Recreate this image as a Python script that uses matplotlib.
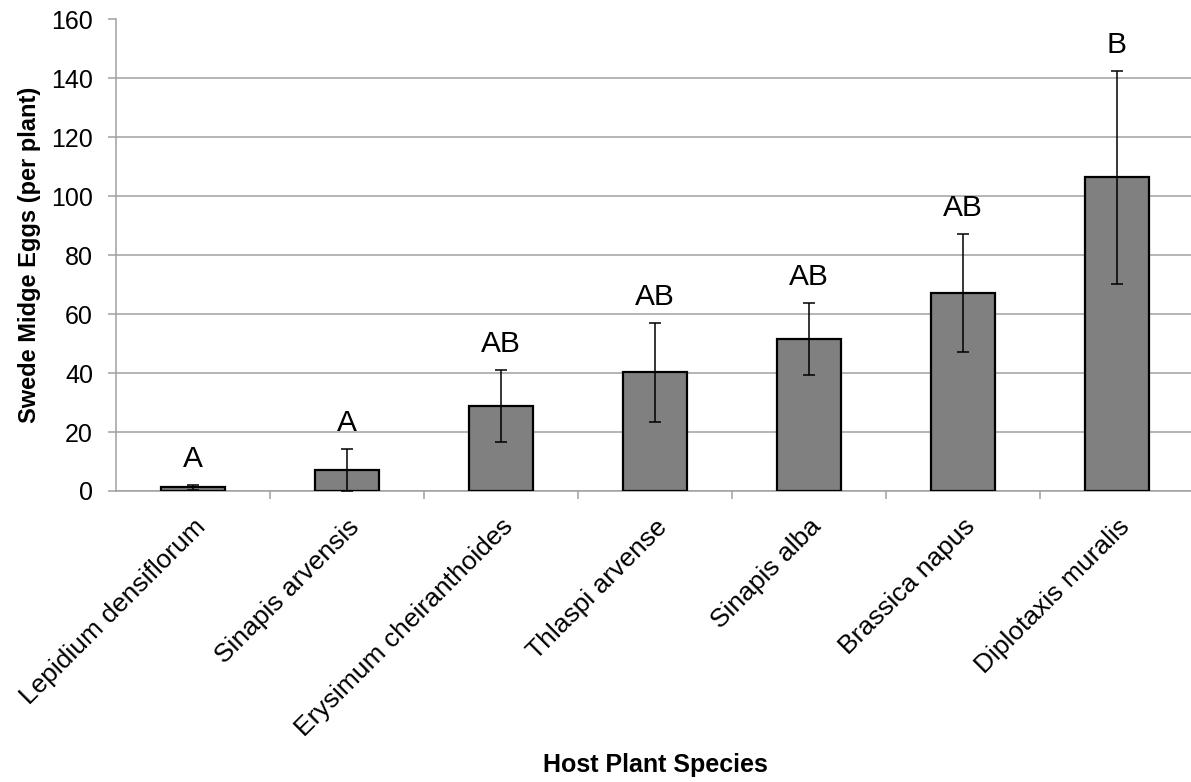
"""Swede midge eggs per host plant: bar chart with SE bars and letter groups."""

import matplotlib

matplotlib.use("Agg")
import matplotlib.pyplot as plt  # noqa: E402
import numpy as np  # noqa: E402

plt.rcParams["font.family"] = ["Liberation Sans", "DejaVu Sans"]

# data
species = [
    "Lepidium densiflorum", "Sinapis arvensis", "Erysimum cheiranthoides",
    "Thlaspi arvense", "Sinapis alba", "Brassica napus", "Diplotaxis muralis",
]
eggs_mean = [1.3, 7.1, 28.8, 40.3, 51.5, 67.1, 106.4]
eggs_err = [0.8, 7.0, 12.3, 16.8, 12.2, 20.0, 36.0]
groups = ["A", "A", "AB", "AB", "AB", "AB", "B"]
y_ticks = [0, 20, 40, 60, 80, 100, 120, 140, 160]

C_BAR = "#808080"
C_AXIS = "#a0a0a0"

W, H = 1191, 782
fig = plt.figure(figsize=(W / 100, H / 100), dpi=100)
ax = fig.add_axes([116 / W, 1 - 491 / H, 1078 / W, (491 - 19.5) / H])

x = np.arange(len(species))
ax.bar(x, eggs_mean, width=0.41, color=C_BAR, edgecolor="black", linewidth=1.6, zorder=3)
ax.errorbar(x, eggs_mean, yerr=eggs_err, fmt="none", ecolor="black",
            elinewidth=1.1, capsize=4.5, capthick=1.1, zorder=4)

for xi, m, e, g in zip(x, eggs_mean, eggs_err, groups):
    ax.annotate(g, (xi, m + e), xytext=(0, 13), textcoords="offset points",
                ha="center", va="baseline", fontsize=21.5)

ax.set_xlim(-0.5, len(species) - 0.5)
ax.set_ylim(0, 160)
ax.set_yticks(y_ticks)
ax.tick_params(axis="y", length=5.5, width=1.1, color=C_AXIS, pad=11, labelsize=18)

# category labels at centres, tick marks at category boundaries
ax.set_xticks(x)
ax.set_xticklabels(species, rotation=45, ha="right", va="top",
                   rotation_mode="anchor", fontsize=19)
ax.tick_params(axis="x", which="major", length=0, pad=17)
ax.set_xticks(np.arange(0.5, len(species) - 0.5, 1), minor=True)
ax.tick_params(axis="x", which="minor", length=5.5, width=1.1, color=C_AXIS)

ax.grid(axis="y", color=C_AXIS, linewidth=1.1, zorder=0)
ax.set_axisbelow(True)
for side in ("top", "right"):
    ax.spines[side].set_visible(False)
for side in ("left", "bottom"):
    ax.spines[side].set_color(C_AXIS)
    ax.spines[side].set_linewidth(1.1)

fig.text(30 / W, 1 - 255 / H, "Swede Midge Eggs (per plant)", rotation=90,
         ha="center", va="center", fontsize=17, fontweight="bold")
fig.text(655 / W, 1 - 765 / H, "Host Plant Species",
         ha="center", va="center", fontsize=18, fontweight="bold")

fig.savefig("out.png", dpi=100)
